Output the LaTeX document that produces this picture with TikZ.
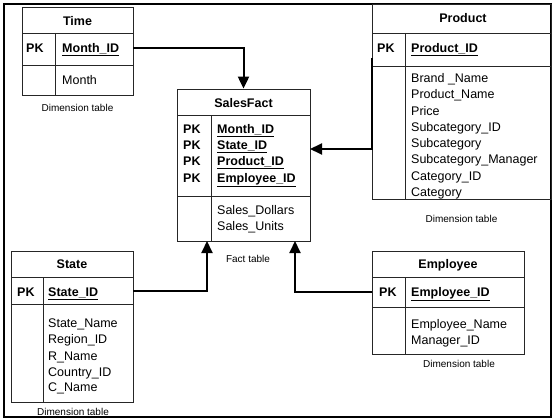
\documentclass[tikz,border=0pt]{standalone}
\usepackage{fontspec}
\setmainfont{Liberation Sans}
\usetikzlibrary{arrows.meta}
\begin{document}
\begin{tikzpicture}[x=1pt,y=-1pt,
  box/.style={draw=black!85, line width=0.8pt, inner sep=0pt, rectangle},
  rule/.style={draw=black!85, line width=0.8pt},
  conn/.style={line width=2pt, -{Triangle[length=12pt,width=11pt]}},
  hdr/.style={font=\bfseries\fontsize{12.5}{14}\selectfont, anchor=base, inner sep=0pt},
  pk/.style={font=\bfseries\fontsize{12.5}{14}\selectfont, anchor=base west, inner sep=0pt},
  fld/.style={font=\fontsize{12.5}{14}\selectfont, anchor=base west, inner sep=0pt},
  tcaption/.style={font=\fontsize{10}{12}\selectfont, anchor=base, inner sep=0pt}]
\useasboundingbox (0,0) rectangle (554,420);
% outer frame
\draw[line width=2.4pt] (4,4) rectangle (551,417);

% ---- Time ----
\node[box, minimum width=111, minimum height=88] (time) at (77.5,51) {};
\draw[rule] (22,33) -- (133,33) (22,65) -- (133,65) (55,33) -- (55,95);
\node[hdr] (timeh) at (77.5,25.5) {Time};
\node[pk] (timepk) at (26,52.5) {PK};
\node[pk] (timeid) at (62,52.5) {\underline{Month\_ID}};
\node[fld] (timef1) at (62,84.5) {Month};
\node[tcaption] (timecap) at (77.5,111) {Dimension table};

% ---- SalesFact ----
\node[box, minimum width=133, minimum height=152] (fact) at (243.5,165) {};
\draw[rule] (177,115) -- (310,115) (177,196) -- (310,196) (211,115) -- (211,241);
\node[hdr] (facth) at (243.5,107.5) {SalesFact};
\node[pk] (fpk1) at (183,133.5) {PK};
\node[pk] (fpk2) at (183,149.5) {PK};
\node[pk] (fpk3) at (183,165.5) {PK};
\node[pk] (fpk4) at (183,182) {PK};
\node[pk] (fk1) at (217,133.5) {\underline{Month\_ID}};
\node[pk] (fk2) at (217,149.5) {\underline{State\_ID}};
\node[pk] (fk3) at (217,165.5) {\underline{Product\_ID}};
\node[pk] (fk4) at (217,182) {\underline{Employee\_ID}};
\node[fld] (ff1) at (217,214.5) {Sales\_Dollars};
\node[fld] (ff2) at (217,230.5) {Sales\_Units};
\node[tcaption] (factcap) at (248,262) {Fact table};

% ---- Product ----
\node[box, minimum width=179, minimum height=195] (prod) at (461.5,101.5) {};
\draw[rule] (372,33) -- (551,33) (372,66) -- (551,66) (405,33) -- (405,199);
\node[hdr] (prodh) at (463,22.5) {Product};
\node[pk] (prodpk) at (377,52.5) {PK};
\node[pk] (prodid) at (411,52.5) {\underline{Product\_ID}};
\node[fld] (p1) at (411,82.5) {Brand \_Name};
\node[fld] (p2) at (411,98.5) {Product\_Name};
\node[fld] (p3) at (411,115) {Price};
\node[fld] (p4) at (411,131.5) {Subcategory\_ID};
\node[fld] (p5) at (411,147.5) {Subcategory};
\node[fld] (p6) at (411,163.5) {Subcategory\_Manager};
\node[fld] (p7) at (411,180) {Category\_ID};
\node[fld] (p8) at (411,196) {Category};
\node[tcaption] (prodcap) at (461.5,222) {Dimension table};

% ---- State ----
\node[box, minimum width=122, minimum height=151] (state) at (72,326.5) {};
\draw[rule] (11,277) -- (133,277) (11,304) -- (133,304) (43,277) -- (43,402);
\node[hdr] (stateh) at (72,268.5) {State};
\node[pk] (statepk) at (17,296.5) {PK};
\node[pk] (stateid) at (48,296.5) {\underline{State\_ID}};
\node[fld] (s1) at (48,327.5) {State\_Name};
\node[fld] (s2) at (48,343.5) {Region\_ID};
\node[fld] (s3) at (48,360) {R\_Name};
\node[fld] (s4) at (48,376) {Country\_ID};
\node[fld] (s5) at (48,391.5) {C\_Name};
\node[tcaption] (statecap) at (73,415) {Dimension table};

% ---- Employee ----
\node[box, minimum width=152, minimum height=103] (emp) at (448,302.5) {};
\draw[rule] (372,277) -- (524,277) (372,307) -- (524,307) (405,277) -- (405,354);
\node[hdr] (emph) at (448,268.5) {Employee};
\node[pk] (emppk) at (379,296.5) {PK};
\node[pk] (empid) at (411,296.5) {\underline{Employee\_ID}};
\node[fld] (e1) at (411,328.5) {Employee\_Name};
\node[fld] (e2) at (411,344.5) {Manager\_ID};
\node[tcaption] (empcap) at (459,367) {Dimension table};

% ---- connectors into the fact table ----
\coordinate (timeout) at (133,48);
\coordinate (prodout) at (372,58);
\coordinate (prodbend) at (372,149);
\coordinate (factP) at (310,149);
\coordinate (stateout) at (133,291);
\coordinate (factS) at (207,241);
\coordinate (empout) at (372,292);
\coordinate (factE) at (295,241);

\draw[conn] (timeout) -| (fact.north);
\draw[conn] (prodout) -- (prodbend) -- (factP);
\draw[conn] (stateout) -| (factS);
\draw[conn] (empout) -| (factE);
\end{tikzpicture}
\end{document}
